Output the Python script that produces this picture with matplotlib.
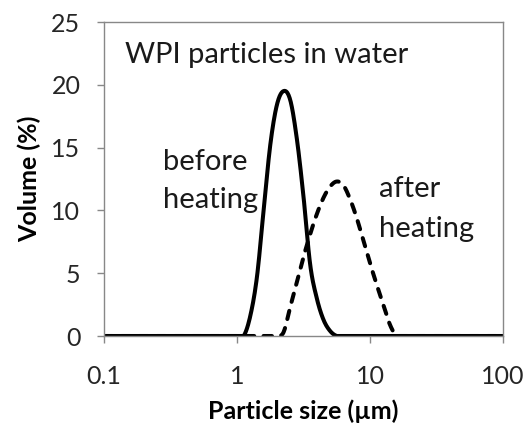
import numpy as np
import matplotlib
matplotlib.use("Agg")
import matplotlib.pyplot as plt

# Particle size bins (µm), 20 per decade from 0.1 to 100
log_size = [round(-1 + 0.05 * i, 2) for i in range(61)]
particle_size = [10 ** v for v in log_size]

# Volume (%) before heating (solid line)
before_heating = [0.0] * 21 + [
    0.0, 1.6, 4.7, 10.0, 15.2, 18.4, 19.5, 18.8, 15.7, 11.1,
    5.7, 3.0, 1.3, 0.4, 0.0,
] + [0.0] * 25

# Volume (%) after heating (dashed line)
after_heating = [0.0] * 26 + [
    0.0, 0.3, 2.3, 4.3, 6.3, 8.1, 9.7, 11.0, 11.9, 12.3,
    12.0, 10.9, 9.4, 7.6, 5.8, 4.1, 2.5, 0.9, 0.0,
] + [0.0] * 16

x_ticks = [0.1, 1, 10, 100]
x_tick_labels = ["0.1", "1", "10", "100"]
y_ticks = [0, 5, 10, 15, 20, 25]


def smooth(xs, ys, n=12):
    """Catmull-Rom smoothing in log-x space (like a spreadsheet's smoothed line)."""
    lx = np.log10(np.asarray(xs, float))
    y = np.asarray(ys, float)
    P = np.column_stack([lx, y])
    P = np.vstack([P[0], P, P[-1]])
    out = []
    t = np.linspace(0, 1, n, endpoint=False)[:, None]
    for i in range(1, len(P) - 2):
        p0, p1, p2, p3 = P[i - 1], P[i], P[i + 1], P[i + 2]
        seg = 0.5 * ((2 * p1) + (-p0 + p2) * t + (2 * p0 - 5 * p1 + 4 * p2 - p3) * t ** 2
                     + (-p0 + 3 * p1 - 3 * p2 + p3) * t ** 3)
        out.append(seg)
    out.append(P[-2][None, :])
    out = np.vstack(out)
    return 10 ** out[:, 0], np.clip(out[:, 1], 0, None)


plt.rcParams['font.family'] = ['Lato', 'DejaVu Sans']

fig = plt.figure(figsize=(5.31, 4.30), dpi=100)
ax = fig.add_axes([104 / 531, 1 - 336 / 430, 399 / 531, 314 / 430])

xa, ya = smooth(particle_size, after_heating)
xb, yb = smooth(particle_size, before_heating)
ax.plot(xa, ya, color='black', lw=2.9,
        linestyle=(0, (2.1, 2.3)), dash_capstyle='round')
ax.plot(xb, yb, color='black', lw=2.9,
        solid_capstyle='butt', solid_joinstyle='round')

ax.set_xscale('log')
ax.set_xlim(0.1, 100)
ax.set_ylim(0, 25)
ax.set_xticks(x_ticks)
ax.set_xticklabels(x_tick_labels)
ax.minorticks_off()
ax.set_yticks(y_ticks)

gray = '#888888'
for s in ax.spines.values():
    s.set_color(gray)
    s.set_linewidth(1.0)
ax.tick_params(axis='both', direction='out', length=5, width=1.0, color=gray,
               labelsize=18, labelcolor='#262626')
ax.tick_params(axis='y', pad=12)
ax.tick_params(axis='x', pad=16)

ax.set_xlabel("Particle size (µm)", fontsize=18, fontweight='bold', labelpad=8)
ax.set_ylabel("Volume (%)", fontsize=18, fontweight='bold', labelpad=7)

txt = dict(fontsize=21, color='#1a1a1a', ha='left', va='baseline', transform=ax.transAxes)
ax.text(0.053, 0.869, "WPI particles in water", **txt)
ax.text(0.148, 0.529, "before", **txt)
ax.text(0.148, 0.408, "heating", **txt)
ax.text(0.689, 0.443, "after", **txt)
ax.text(0.689, 0.315, "heating", **txt)

fig.savefig("out.png", dpi=100)
